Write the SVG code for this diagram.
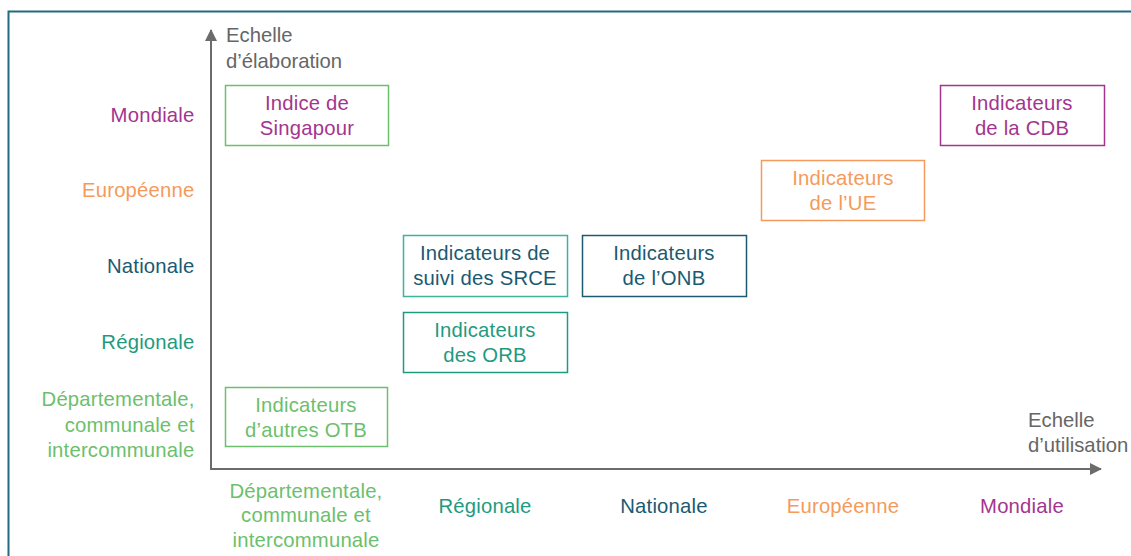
<svg xmlns="http://www.w3.org/2000/svg" width="1131" height="556" viewBox="0 0 1131 556">
<defs>
<style>
text{font-family:"Liberation Sans",Arial,Helvetica,sans-serif;font-size:20.3px;letter-spacing:0.2px}
.box{fill:#fff;stroke-width:1.5}
.c{text-anchor:middle}
.r{text-anchor:end}
.ax{fill:#666;letter-spacing:0}
.purple{fill:#a3358f}.orange{fill:#f59a5c}.blue{fill:#1b5a70}.teal{fill:#1f9a7f}.green{fill:#6cbf6c}
</style>
<marker id="ah" viewBox="0 0 12 12" refX="11" refY="6" markerWidth="12" markerHeight="12" markerUnits="userSpaceOnUse" orient="auto">
<path d="M0,0 L12,6 L0,12 Z" fill="#6b6b6b"/>
</marker>
</defs>
<rect width="1131" height="556" fill="#fff"/>
<rect x="8.5" y="11.5" width="1140" height="560" fill="none" stroke="#236b80" stroke-width="2"/>
<g id="connectors">
<line x1="211" y1="469" x2="211" y2="30" stroke="#6b6b6b" stroke-width="2" marker-end="url(#ah)"/>
<line x1="210" y1="469" x2="1101" y2="469" stroke="#6b6b6b" stroke-width="2" marker-end="url(#ah)"/>
</g>
<g id="axis-labels">
<text class="ax" x="226" y="42">Echelle</text>
<text class="ax" x="226" y="68">d’élaboration</text>
<text class="ax" x="1028" y="427">Echelle</text>
<text class="ax" x="1028" y="452">d’utilisation</text>
</g>
<g id="y-labels">
<text class="r purple" x="194.5" y="122">Mondiale</text>
<text class="r orange" x="194.5" y="197">Européenne</text>
<text class="r blue" x="194.5" y="273">Nationale</text>
<text class="r teal" x="194.5" y="349">Régionale</text>
<text class="r green" x="194.5" y="406">Départementale,</text>
<text class="r green" x="194.5" y="432">communale et</text>
<text class="r green" x="194.5" y="457">intercommunale</text>
</g>
<g id="x-labels">
<text class="c green" x="306" y="498">Départementale,</text>
<text class="c green" x="306" y="522">communale et</text>
<text class="c green" x="306" y="547">intercommunale</text>
<text class="c teal" x="485" y="513">Régionale</text>
<text class="c blue" x="664" y="513">Nationale</text>
<text class="c orange" x="843" y="513">Européenne</text>
<text class="c purple" x="1022" y="513">Mondiale</text>
</g>
<g id="singapour">
<rect class="box" x="225.5" y="85.5" width="163" height="60" stroke="#6cbf6c"/>
<text class="c purple" x="307" y="110">Indice de</text>
<text class="c purple" x="307" y="135">Singapour</text>
</g>
<g id="otb">
<rect class="box" x="225.5" y="387.5" width="162" height="59" stroke="#6cbf6c"/>
<text class="c green" x="306" y="412">Indicateurs</text>
<text class="c green" x="306" y="437">d’autres OTB</text>
</g>
<g id="srce">
<rect class="box" x="403.5" y="235.5" width="164" height="61" stroke="#3fb39a"/>
<text class="c blue" x="485" y="260">Indicateurs de</text>
<text class="c blue" x="485" y="285">suivi des SRCE</text>
</g>
<g id="onb">
<rect class="box" x="582.5" y="235.5" width="164" height="61" stroke="#1b5a70"/>
<text class="c blue" x="664" y="260">Indicateurs</text>
<text class="c blue" x="664" y="285">de l’ONB</text>
</g>
<g id="orb">
<rect class="box" x="403.5" y="312.5" width="164" height="60" stroke="#1f9a7f"/>
<text class="c teal" x="485" y="337">Indicateurs</text>
<text class="c teal" x="485" y="362">des ORB</text>
</g>
<g id="ue">
<rect class="box" x="761.5" y="160.5" width="163" height="60" stroke="#f59a5c"/>
<text class="c orange" x="843" y="185">Indicateurs</text>
<text class="c orange" x="843" y="210">de l’UE</text>
</g>
<g id="cdb">
<rect class="box" x="940.5" y="85.5" width="164" height="60" stroke="#a3358f"/>
<text class="c purple" x="1022" y="110">Indicateurs</text>
<text class="c purple" x="1022" y="135">de la CDB</text>
</g>
</svg>
